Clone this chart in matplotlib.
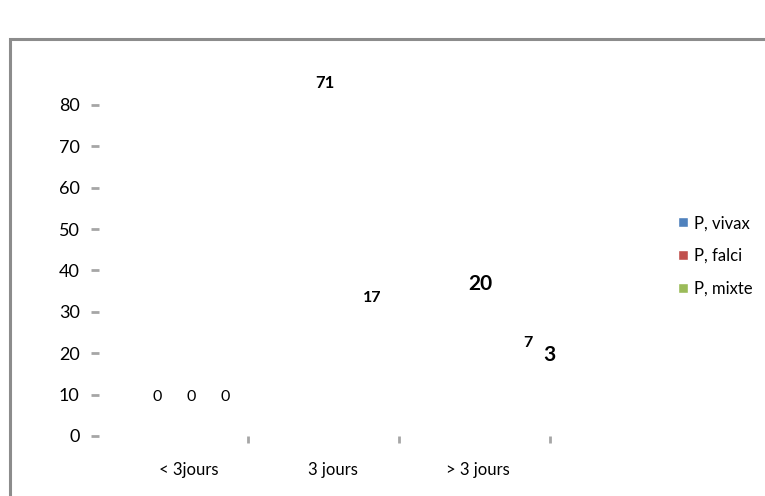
import matplotlib
matplotlib.use("Agg")
import matplotlib.pyplot as plt
from matplotlib.patches import Patch, Rectangle
import numpy as np

plt.rcParams["font.family"] = ["Lato", "DejaVu Sans"]

# data
categories = ["< 3jours", "3 jours", "> 3 jours"]
series = ["P, vivax", "P, falci", "P, mixte"]
vivax = [0, 71, 20]
falci = [0, 17, 7]
mixte = [0, None, 3]
colors = ["#4F81BD", "#C0504D", "#9BBB59"]

values = [vivax, falci, mixte]

fig = plt.figure(figsize=(7.65, 4.96), dpi=100)
# outer chart frame
fig.patches.append(Rectangle((10 / 765, -0.1), 1.2, (496 - 39) / 496 + 0.1,
                             transform=fig.transFigure, fill=False,
                             edgecolor="#8c8c8c", linewidth=2.2))
ax = fig.add_axes([95 / 765, 60 / 496, 455 / 765, 0.751])

x = np.arange(len(categories))
offsets = [-0.23, 0.0, 0.23]
for vals, off, c in zip(values, offsets, colors):
    h = [v if v is not None else 0 for v in vals]
    # bars were not rendered in the original (3D chart flattened), keep invisible
    ax.bar(x + off, h, width=0.22, color=c, alpha=0)

# data labels (positions as they appear in the picture)
label_x = [[-0.22, 0.943, 2.016], [0.013, 1.268, 2.349], [0.25, None, 2.494]]
label_y = [[9.4, 85.3, 36.7], [9.4, 33.3, 22.5], [9.4, None, 19.6]]
label_fs = [[11.5, 12, 15], [11.5, 11.5, 11.5], [11.5, None, 15]]
for si, vals in enumerate(values):
    for ci, v in enumerate(vals):
        if v is None:
            continue
        ax.text(label_x[si][ci], label_y[si][ci], str(v), ha="center", va="center",
                fontsize=label_fs[si][ci],
                fontweight="normal" if v == 0 else "bold", color="black")

ax.set_xlim(-0.65, 2.5)
ax.set_ylim(0, 90)
ax.set_yticks(np.arange(0, 81, 10))
ax.set_xticks(x)
ax.set_xticklabels(categories, fontsize=12)
ax.set_xticks([0.41, 1.455, 2.5], minor=True)
ax.tick_params(axis="x", which="major", length=0, pad=19)
ax.tick_params(axis="x", which="minor", length=5, width=2, color="#a6a6a6", direction="out")
ax.tick_params(axis="y", length=6, width=2, color="#a6a6a6", direction="inout",
               labelsize=13, pad=8)
for s in ax.spines.values():
    s.set_visible(False)

handles = [Patch(facecolor=c, edgecolor="white") for c in colors]
fig.legend(handles, series, loc="center left", bbox_to_anchor=(670 / 765, 1 - 256 / 496),
           frameon=False, fontsize=12, handlelength=0.55, handleheight=0.55,
           handletextpad=0.4, labelspacing=1.0, borderpad=0)

fig.savefig("out.png", dpi=100)
